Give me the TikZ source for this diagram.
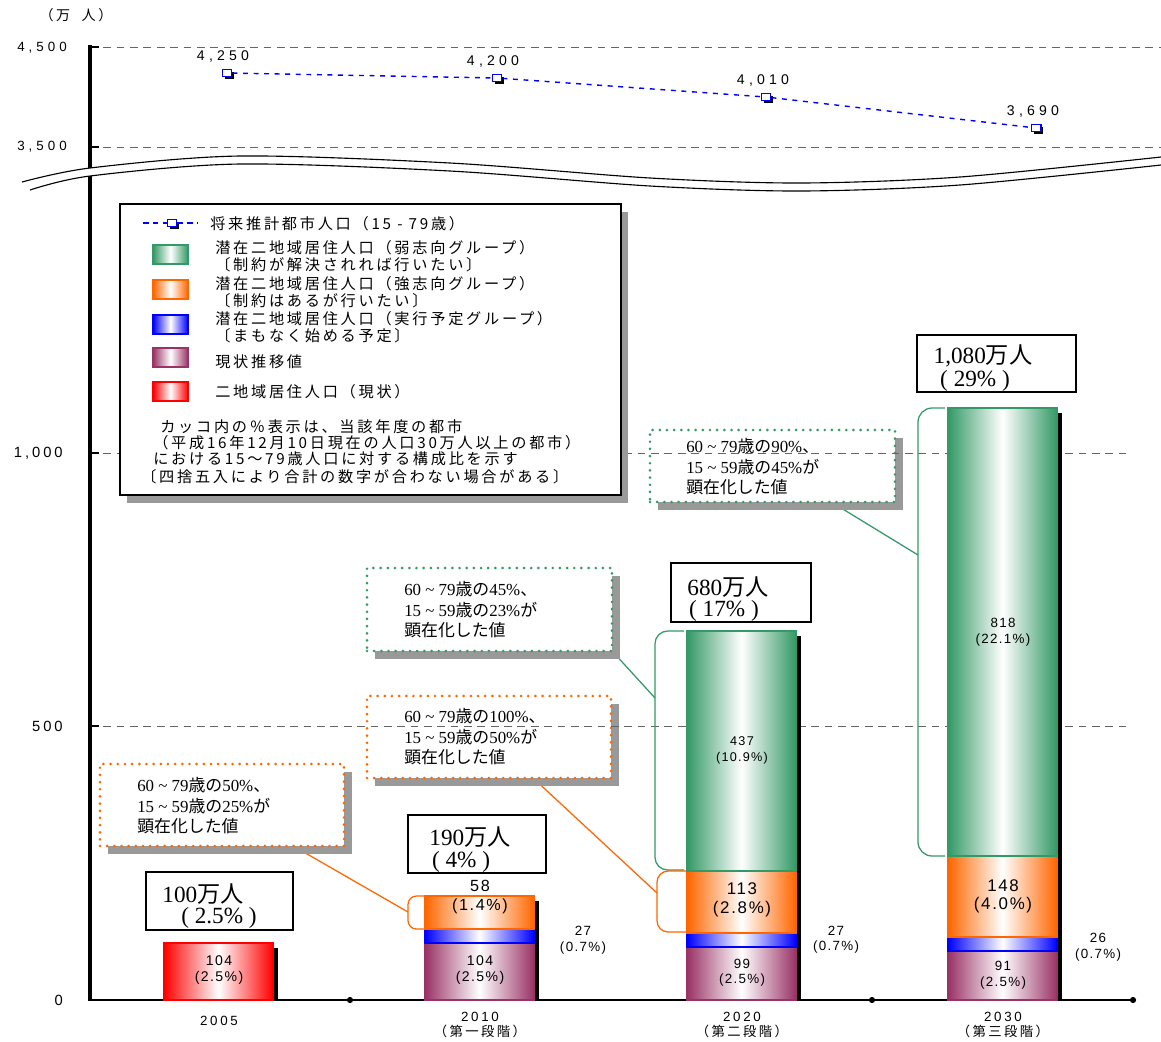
\documentclass[tikz,border=0pt]{standalone}
\usepackage{fontspec}
\setmainfont{Liberation Serif}
\setsansfont{Liberation Sans}
\newfontfamily\jp{Noto Sans CJK JP}
\newfontfamily\jpw{Noto Sans CJK JP}[LetterSpace=18]
\newfontfamily\numw{Liberation Sans}[LetterSpace=30]
\newfontfamily\numm{Liberation Sans}[LetterSpace=20]
\newfontfamily\numn{Liberation Sans}[LetterSpace=10]
\usetikzlibrary{fit,shadows,backgrounds}

\definecolor{grn}{RGB}{51,153,102}
\definecolor{org}{RGB}{255,102,0}
\definecolor{blu}{RGB}{0,0,255}
\definecolor{pur}{RGB}{153,51,102}
\definecolor{rd}{RGB}{255,0,0}
\definecolor{gridgray}{RGB}{100,100,100}
\definecolor{shadowgray}{RGB}{153,153,153}

\newcommand\jt[1]{{\jp #1}}

\tikzset{
  gridline/.style={gridgray, dash pattern=on 5.5pt off 4pt, line width=0.7pt},
  barseg/.style={left color=#1, right color=#1, middle color=white, draw=#1, line width=1.6pt},
  calloutbox/.style={draw=#1, line width=2.1pt, dash pattern=on 0pt off 5.1pt, line cap=round, fill=white, inner sep=0pt,
    drop shadow={shadow xshift=5.5pt, shadow yshift=-5.5pt, fill=shadowgray, opacity=1}},
  callouttxt/.style={anchor=west, align=left, inner sep=0pt, font=\rmfamily\fontsize{12}{14.6}\selectfont},
  legendbox/.style={draw, line width=0.9pt, fill=white, inner sep=0pt,
    drop shadow={shadow xshift=5pt, shadow yshift=-5.5pt, fill=shadowgray, opacity=1}},
  legtxt/.style={anchor=west, align=left, inner sep=0pt, font=\jpw\fontsize{10.8}{12}\selectfont},
  totalbox/.style={draw, line width=0.8pt, fill=white, inner sep=0pt},
  totaltxt/.style={inner sep=0pt, font=\rmfamily\fontsize{16.5}{18}\selectfont},
  valtxt/.style n args={2}{align=center, inner sep=0pt, font=\numn\fontsize{#1}{#2}\selectfont},
  xlab/.style={align=center, inner sep=0pt, font=\numm\fontsize{9.5}{10.6}\selectfont},
  ylab/.style={anchor=east, inner sep=0pt},
  marker/.style={draw=blu, fill=white, line width=0.8pt, minimum width=7pt, minimum height=5pt, inner sep=0pt,
    drop shadow={shadow xshift=1.8pt, shadow yshift=-1.8pt, fill=black, opacity=1}},
  series/.style={blu, line width=1pt, dash pattern=on 3.5pt off 4pt},
  bracket/.style={#1, line width=0.9pt},
  link/.style={#1, line width=0.9pt}
}

\begin{document}
\begin{tikzpicture}[x=0.025cm,y=-0.025cm]
\useasboundingbox (0,0) rectangle (1161,1041);

\node[calloutbox=org, fit={(100,764) (344,846)}] (co10) {};
\node[calloutbox=org, fit={(367,696) (611,778)}] (co20o) {};
\node[calloutbox=grn, fit={(367,568) (612,651)}] (co20g) {};
\node[calloutbox=grn, fit={(650,430) (895,502)}] (co30) {};
\node[callouttxt] (tx10) at (137,806) {60 \textasciitilde\ 79\jt{歳の}50\%\jt{、}\\15 \textasciitilde\ 59\jt{歳の}25\%\jt{が}\\\jt{顕在化した値}};
\node[callouttxt] (tx20o) at (404,737) {60 \textasciitilde\ 79\jt{歳の}100\%\jt{、}\\15 \textasciitilde\ 59\jt{歳の}50\%\jt{が}\\\jt{顕在化した値}};
\node[callouttxt] (tx20g) at (404,610) {60 \textasciitilde\ 79\jt{歳の}45\%\jt{、}\\15 \textasciitilde\ 59\jt{歳の}23\%\jt{が}\\\jt{顕在化した値}};
\node[callouttxt] (tx30) at (686,467) {60 \textasciitilde\ 79\jt{歳の}90\%\jt{、}\\15 \textasciitilde\ 59\jt{歳の}45\%\jt{が}\\\jt{顕在化した値}};

\draw[gridline] (90,47) -- (1161,47);
\draw[gridline] (90,147) -- (1161,147);
\draw[gridline] (90,453) -- (1128,453);
\draw[gridline] (90,726) -- (1128,726);

\draw[line width=2.2pt] (90,45) -- (90,1001);
\draw[line width=1.6pt] (88,1000) -- (1136,1000);
\foreach \y in {47,147,453,726}
  \draw[line width=1.6pt] (90,\y) -- (99,\y);
\foreach \x in {350,872,1133}
  \fill (\x,1000) circle (2.2pt);

\node[ylab, font=\numw\fontsize{9.5}{11}\selectfont] (y4500) at (67,48) {4,500};
\node[ylab, font=\numw\fontsize{9.5}{11}\selectfont] (y3500) at (67,147) {3,500};
\node[ylab, font=\numm\fontsize{10.5}{12}\selectfont] (y1000) at (63,453) {1,000};
\node[ylab, font=\numm\fontsize{10.5}{12}\selectfont] (y500) at (63,726) {500};
\node[ylab, font=\numm\fontsize{10.5}{12}\selectfont] (y0) at (63,1000) {0};
\node[inner sep=0pt, font=\jpw\fontsize{10}{11}\selectfont] (unit) at (76,15) {（万\ \ 人）};

\foreach \xa/\ya in {164/948, 425/901, 687/636, 948/413}
  \fill (\xa+109,\ya) rectangle (\xa+114,1000);
\foreach \xa/\ya/\yb/\c in {164/943/1000/rd, 425/943/1000/pur, 425/929/943/blu, 425/896/929/org,
    687/947/1000/pur, 687/933/947/blu, 687/871/933/org, 687/631/871/grn,
    948/951/1000/pur, 948/937/951/blu, 948/856/937/org, 948/408/856/grn}
  \shade[barseg=\c] (\xa,\ya) rectangle (\xa+109,\yb);

\draw[bracket=org, rounded corners=6pt] (424,896) -- (408,896) -- (408,929) -- (424,929);
\draw[bracket=grn, rounded corners=9pt] (684,631) -- (655,631) -- (655,870) -- (684,870);
\draw[bracket=org, rounded corners=8pt] (686,871) -- (657,871) -- (657,932) -- (686,932);
\draw[bracket=grn, rounded corners=10pt] (945,408) -- (918,408) -- (918,856) -- (945,856);
\coordinate (br10) at (408,912);
\coordinate (br20o) at (657,893);
\coordinate (br20g) at (655,698);
\coordinate (br30) at (918,555);

\begin{scope}[on background layer]
\draw[link=org] (co10) -- (br10);
\draw[link=org] (co20o) -- (br20o);
\draw[link=grn] (co20g.south east) -- (br20g);
\draw[link=grn] (co30) -- (br30);
\end{scope}

\node[valtxt={10}{11.5}] (v05) at (219,970) {104\\(2.5\%)};
\node[valtxt={11.5}{14}] (v10o) at (480,897) {58\\(1.4\%)};
\node[valtxt={10}{11.5}] (v10p) at (480,970) {104\\(2.5\%)};
\node[valtxt={9.5}{11}] (v10b) at (583,940) {27\\(0.7\%)};
\node[valtxt={9}{11.3}] (v20g) at (742,750) {437\\(10.9\%)};
\node[valtxt={12}{13.5}] (v20o) at (742,900) {113\\(2.8\%)};
\node[valtxt={9.5}{10.8}] (v20p) at (742,973) {99\\(2.5\%)};
\node[valtxt={9.5}{10.8}] (v20b) at (836,940) {27\\(0.7\%)};
\node[valtxt={9.5}{11.3}] (v30g) at (1003,632) {818\\(22.1\%)};
\node[valtxt={12}{13}] (v30o) at (1003,896) {148\\(4.0\%)};
\node[valtxt={9.5}{11.3}] (v30p) at (1003,975) {91\\(2.5\%)};
\node[valtxt={9.5}{11.3}] (v30b) at (1098,947) {26\\(0.7\%)};

\node[xlab] (x05) at (219,1021) {2005};
\node[xlab] (x10) at (480,1025) {2010\\{\jpw\fontsize{9.5}{10.6}\selectfont （第一段階）}};
\node[xlab] (x20) at (742,1025) {2020\\{\jpw\fontsize{9.5}{10.6}\selectfont （第二段階）}};
\node[xlab] (x30) at (1003,1025) {2030\\{\jpw\fontsize{9.5}{10.6}\selectfont （第三段階）}};

\node[totalbox, fit={(146,872) (293,930)}] (b05) {};
\node[totaltxt] (t05a) at (203,894) {100\jt{万人}};
\node[totaltxt] (t05b) at (219,918) {( 2.5\% )};
\node[totalbox, fit={(408,815) (546,873)}] (b10) {};
\node[totaltxt] (t10a) at (470,837) {190\jt{万人}};
\node[totaltxt] (t10b) at (461,862) {( 4\% )};
\node[totalbox, fit={(671,563) (811,622)}] (b20) {};
\node[totaltxt] (t20a) at (728,587) {680\jt{万人}};
\node[totaltxt] (t20b) at (724,611) {( 17\% )};
\node[totalbox, fit={(917,335) (1076,392)}] (b30) {};
\node[totaltxt] (t30a) at (983,356) {1,080\jt{万人}};
\node[totaltxt] (t30b) at (975,381) {( 29\% )};

\node[legendbox, fit={(120,204) (621,495)}] (leg) {};
\coordinate (la) at (143,223);
\coordinate (lb) at (198,223);
\node[marker] (lm) at (172,223) {};
\draw[blu, line width=1.5pt, dash pattern=on 4pt off 3pt] (la) -- (lm) -- (lb);
\foreach \ya/\c in {245/grn, 280/org, 315/blu, 348/pur, 382/rd}
  \shade[barseg=\c, line width=1.2pt] (153,\ya) rectangle (188,\ya+19);
\node[legtxt] (l1) at (210,224) {将来推計都市人口（15 - 79歳）};
\node[legtxt] (l2) at (215,256) {潜在二地域居住人口（弱志向グループ）\\〔制約が解決されれば行いたい〕};
\node[legtxt] (l3) at (215,292) {潜在二地域居住人口（強志向グループ）\\〔制約はあるが行いたい〕};
\node[legtxt] (l4) at (215,327) {潜在二地域居住人口（実行予定グループ）\\〔まもなく始める予定〕};
\node[legtxt] (l5) at (215,362) {現状推移値};
\node[legtxt] (l6) at (215,392) {二地域居住人口（現状）};
\node[legtxt] (n1) at (160,427) {カッコ内の％表示は、当該年度の都市};
\node[legtxt] (n2) at (153,443) {（平成16年12月10日現在の人口30万人以上の都市）};
\node[legtxt] (n3) at (153,459) {における15～79歳人口に対する構成比を示す};
\node[legtxt] (n4) at (141,477) {〔四捨五入により合計の数字が合わない場合がある〕};

\fill[white] plot[smooth] coordinates {(22,182) (90,168) (240,156) (450,163) (650,178) (800,183) (960,177) (1161,157)}
  -- plot[smooth] coordinates {(1161,165) (960,185) (800,191) (650,186) (450,171) (240,164) (90,176) (30,190)} -- cycle;
\draw[line width=0.8pt] plot[smooth] coordinates {(22,182) (90,168) (240,156) (450,163) (650,178) (800,183) (960,177) (1161,157)};
\draw[line width=0.8pt] plot[smooth] coordinates {(30,190) (90,176) (240,164) (450,171) (650,186) (800,191) (960,185) (1161,165)};

\node[marker] (p1) at (227,73) {};
\node[marker] (p2) at (497,78) {};
\node[marker] (p3) at (766,97) {};
\node[marker] (p4) at (1036,128) {};
\draw[series] (p1) -- (p2) -- (p3) -- (p4);
\node[inner sep=0pt, font=\numw\fontsize{10}{12}\selectfont] (s1) at (223,56) {4,250};
\node[inner sep=0pt, font=\numw\fontsize{10}{12}\selectfont] (s2) at (493,61) {4,200};
\node[inner sep=0pt, font=\numw\fontsize{10}{12}\selectfont] (s3) at (763,80) {4,010};
\node[inner sep=0pt, font=\numw\fontsize{10}{12}\selectfont] (s4) at (1033,111) {3,690};
\end{tikzpicture}
\end{document}
